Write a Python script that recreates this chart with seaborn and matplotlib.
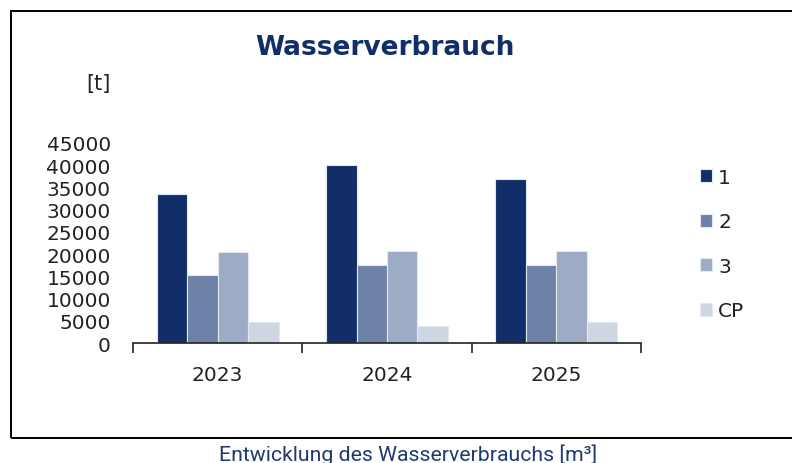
import matplotlib
matplotlib.use("Agg")
import matplotlib.pyplot as plt
from matplotlib.patches import Rectangle
import seaborn as sns
import pandas as pd

# data
years = ["2023", "2024", "2025"]
series = ["1", "2", "3", "CP"]
values_1 = [33600, 40000, 37000]
values_2 = [15400, 17600, 17600]
values_3 = [20400, 20800, 20800]
values_cp = [4700, 3800, 4700]
colors = ["#112e68", "#6e81a6", "#9eabc5", "#cfd6e3"]
y_ticks = list(range(0, 45001, 5000))

rows = []
for name, vals in zip(series, [values_1, values_2, values_3, values_cp]):
    for yr, v in zip(years, vals):
        rows.append({"Jahr": yr, "Serie": name, "Wert": v})
df = pd.DataFrame(rows)

sns.set_style("white")
plt.rcParams["font.family"] = ["DejaVu Sans"]

fig = plt.figure(figsize=(7.92, 4.64), dpi=100)
W, H = 792, 464
ax = fig.add_axes([133 / W, 1 - 344 / H, (641 - 133) / W, (344 - 144) / H])

sns.barplot(data=df, x="Jahr", y="Wert", hue="Serie", hue_order=series,
            order=years, palette=colors, width=0.72, ax=ax,
            edgecolor="#e4e8f0", linewidth=0.8, saturation=1, errorbar=None)

ax.set_ylim(0, 45000)
ax.set_xlim(-0.5, 2.5)
ax.set_yticks(y_ticks)
ax.set_yticklabels([str(t) for t in y_ticks], fontsize=14.5, color="#222222")
ax.tick_params(axis="y", length=0, pad=16)
ax.tick_params(axis="x", which="major", length=0, labelsize=14.5,
               labelcolor="#222222", pad=16)
ax.set_xticks([-0.5, 0.5, 1.5, 2.5], minor=True)
ax.tick_params(axis="x", which="minor", bottom=True, length=7, width=1.2,
               color="#222222", direction="out")
ax.set_xlabel("")
ax.set_ylabel("")
for s in ["top", "right", "left"]:
    ax.spines[s].set_visible(False)
ax.spines["bottom"].set_color("#222222")
ax.spines["bottom"].set_linewidth(1.2)

handles, labels = ax.get_legend_handles_labels()
ax.get_legend().remove()
fig.legend(handles, labels, loc="center left",
           bbox_to_anchor=(700 / W, 1 - 245 / H), frameon=False,
           fontsize=14.5, handlelength=0.6, handleheight=0.6,
           handletextpad=0.3, labelspacing=1.27, borderpad=0,
           borderaxespad=0)
for t in fig.legends[0].get_texts():
    t.set_color("#222222")

fig.text(385 / W, 1 - 48 / H, "Wasserverbrauch", ha="center", va="center",
         fontsize=19, fontweight="bold", color="#102e68")
fig.text(98 / W, 1 - 84 / H, "[t]", ha="center", va="center",
         fontsize=15, color="#222222")

# outer frame, open on the right
fig.patches.append(Rectangle((11 / W, 1 - 438.5 / H), 0.99, (438.5 - 12) / H,
                             transform=fig.transFigure, fill=False,
                             edgecolor="black", linewidth=1.4))

fig.text(408 / W, 1 - 461 / H, "Entwicklung des Wasserverbrauchs [m\u00b3]",
         ha="center", va="baseline", fontsize=15.3, color="#1f3a70",
         family=["Roboto", "DejaVu Sans"])

fig.savefig("out.png", dpi=100)
